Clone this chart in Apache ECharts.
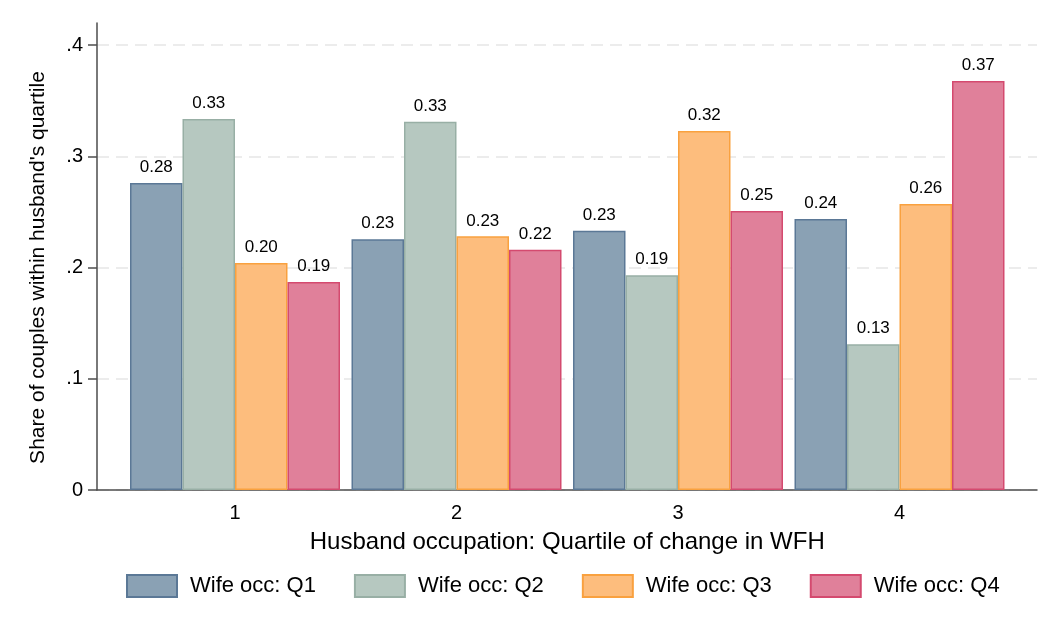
<!DOCTYPE html>
<html>
<head>
<meta charset="utf-8">
<script src="https://cdn.jsdelivr.net/npm/echarts@6/dist/echarts.min.js"></script>
<style>
html,body{margin:0;padding:0;background:#fff;}
#chart{width:1060px;height:636px;}
</style>
</head>
<body>
<div id="chart"></div>
<script>
const categories = ['1', '2', '3', '4'];
const seriesNames = ['Wife occ: Q1', 'Wife occ: Q2', 'Wife occ: Q3', 'Wife occ: Q4'];
const q1 = [0.276, 0.2255, 0.233, 0.2436];
const q2 = [0.3335, 0.331, 0.193, 0.131];
const q3 = [0.204, 0.228, 0.3227, 0.257];
const q4 = [0.187, 0.216, 0.2508, 0.3676];
const yTicks = [0, 0.1, 0.2, 0.3, 0.4];

const fills = ['#8aa1b4', '#b6c8c0', '#fdbd7d', '#e0809a'];
const borders = ['#5b7896', '#98afa5', '#f9a13f', '#d44a6f'];
const FONT = "'Liberation Sans', Arial, sans-serif";

const chart = echarts.init(document.getElementById('chart'));
const allData = [q1, q2, q3, q4];

const option = {
  animation: false,
  backgroundColor: '#fff',
  textStyle: { fontFamily: FONT, color: '#000' },
  grid: [
    { left: 97, right: 23, top: 45, bottom: 146 },
    { left: 124.25, right: 49.75, top: 45, bottom: 146 },
    { left: 97, right: 23, top: 23, bottom: 146 }
  ],
  legend: {
    data: seriesNames,
    left: 126,
    top: 574,
    padding: 0,
    icon: 'rect',
    itemWidth: 50,
    itemHeight: 22,
    itemGap: 38,
    textStyle: { fontFamily: FONT, fontSize: 22, color: '#000', padding: [0, 0, 0, 8] }
  },
  xAxis: [
    {
      gridIndex: 0, type: 'value', min: 0, max: 1,
      axisLine: { show: true, lineStyle: { color: '#4d4d4d', width: 1.5 } },
      axisTick: { show: false }, axisLabel: { show: false }, splitLine: { show: false }
    },
    {
      gridIndex: 1, type: 'category', data: categories,
      axisLine: { show: false }, axisTick: { show: false },
      axisLabel: { fontFamily: FONT, fontSize: 20, color: '#000', margin: 13 },
      name: 'Husband occupation: Quartile of change in WFH',
      nameLocation: 'middle', nameGap: 40,
      nameTextStyle: { fontFamily: FONT, fontSize: 24, color: '#000' }
    },
    {
      gridIndex: 2, type: 'value', min: 0, max: 1, show: false
    }
  ],
  yAxis: [
    {
      gridIndex: 0, type: 'value', min: 0, max: 0.4, interval: 0.1,
      axisLine: { show: false },
      axisTick: { show: true, length: 9, lineStyle: { color: '#4d4d4d', width: 1.5 } },
      axisLabel: {
        fontFamily: FONT, fontSize: 20, color: '#000', margin: 14,
        formatter: function (v) { return v === 0 ? '0' : String(+v.toFixed(1)).replace(/^0\./, '.'); }
      },
      splitLine: { show: true, lineStyle: { color: '#e6e6e6', width: 1.5, type: [12, 7] } },
      name: "Share of couples within husband's quartile",
      nameLocation: 'middle', nameGap: 48,
      nameTextStyle: { fontFamily: FONT, fontSize: 21, color: '#000' }
    },
    {
      gridIndex: 1, type: 'value', min: 0, max: 0.4, show: false
    },
    {
      gridIndex: 2, type: 'value', min: 0, max: 1,
      axisLine: { show: true, lineStyle: { color: '#4d4d4d', width: 1.5 } },
      axisTick: { show: false }, axisLabel: { show: false }, splitLine: { show: false }
    }
  ],
  series: allData.map(function (d, i) {
    return {
      name: seriesNames[i],
      type: 'bar',
      xAxisIndex: 1,
      yAxisIndex: 1,
      data: d,
      barWidth: 52.5,
      barGap: '0%',
      itemStyle: { color: fills[i], borderColor: borders[i], borderWidth: 1.5 },
      label: {
        show: true, position: 'top', distance: 7,
        fontFamily: FONT, fontSize: 17, color: '#000',
        formatter: function (p) { return p.value.toFixed(2); }
      }
    };
  })
};
chart.setOption(option);
</script>
</body>
</html>
